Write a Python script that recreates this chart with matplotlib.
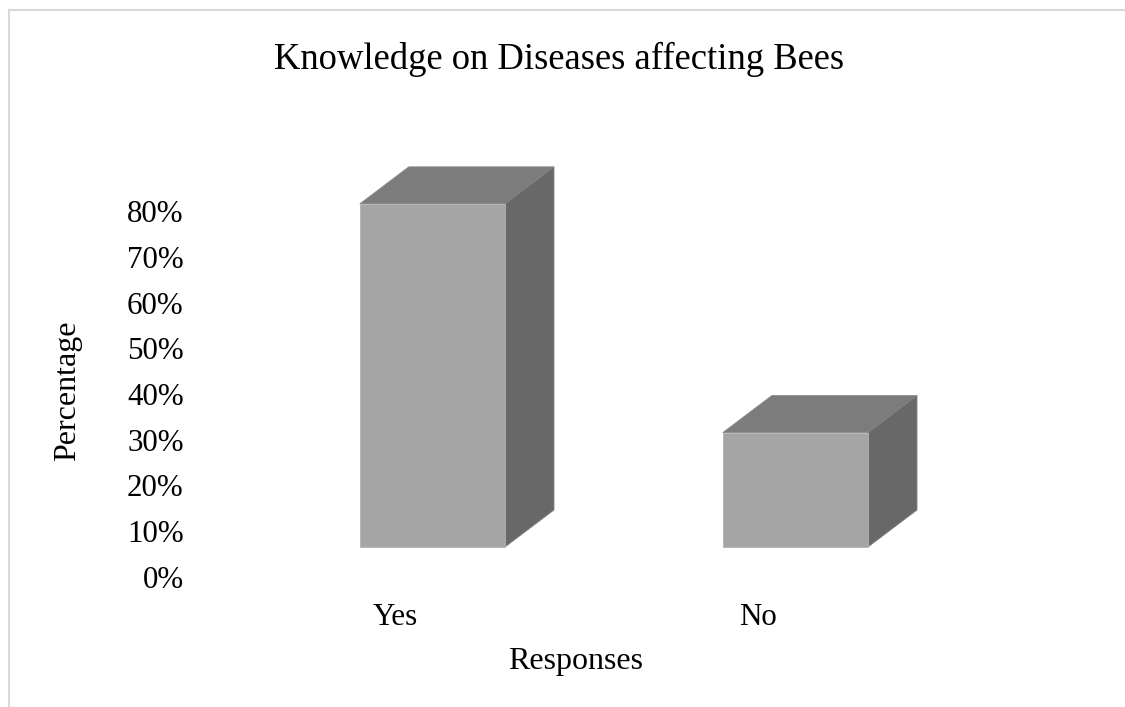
# coding: utf8

import numpy as np
import matplotlib
matplotlib.use("Agg")
import matplotlib.pyplot as plt
from matplotlib.lines import Line2D
from matplotlib.patches import Polygon

reponses = ["Yes", "No"]
pourcentages = [75, 25]
graduations = [0, 10, 20, 30, 40, 50, 60, 70, 80]

W, H = 1125, 707

# Effet 3D : décalage du plan des barres et profondeur, en unités des axes
decal_x, decal_y = 0.103, 6.56
prof_x, prof_y = 0.135, 8.09
largeur = 0.40

plt.rcParams["font.family"] = ["Liberation Serif", "DejaVu Serif"]

fig = plt.figure(figsize=(W / 100, H / 100), dpi=100)
ax = fig.add_axes([213.5 / W, 1 - 577 / H, 726 / W, 366 / H])
ax.set_xlim(-0.5, 1.5)
ax.set_ylim(0, 80)

X = np.arange(len(reponses))
for x, v in zip(X, pourcentages):
    g = x + decal_x - largeur / 2
    d = x + decal_x + largeur / 2
    bas = decal_y
    haut = decal_y + v
    # face avant
    ax.bar(x + decal_x, v, largeur, bottom=bas, color="#a5a5a5", edgecolor="#b4b4b4",
           linewidth=0.6, clip_on=False, zorder=3)
    # dessus
    ax.add_patch(Polygon([(g, haut), (d, haut), (d + prof_x, haut + prof_y), (g + prof_x, haut + prof_y)],
                         closed=True, facecolor="#7c7c7c", edgecolor="#8a8a8a", linewidth=0.6,
                         clip_on=False, zorder=2))
    # côté droit
    ax.add_patch(Polygon([(d, bas), (d + prof_x, bas + prof_y), (d + prof_x, haut + prof_y), (d, haut)],
                         closed=True, facecolor="#686868", edgecolor="#808080", linewidth=0.6,
                         clip_on=False, zorder=2))

for s in ax.spines.values():
    s.set_visible(False)

ax.set_xticks(X)
ax.set_xticklabels(reponses)
ax.set_yticks(graduations)
ax.set_yticklabels(["%d%%" % g for g in graduations])
ax.tick_params(axis="both", length=0, labelsize=22.3, colors="black")
ax.tick_params(axis="y", pad=21.5)
ax.tick_params(axis="x", pad=18.5)

fig.text(559 / W, 1 - 69 / H, "Knowledge on Diseases affecting Bees", fontsize=26.35,
         ha="center", va="baseline")
fig.text(576 / W, 1 - 669 / H, "Responses", fontsize=23, ha="center", va="baseline")
fig.text(68 / W, 1 - 391 / H, "Percentage", fontsize=23, rotation=90, ha="center", va="center")

# Cadre gris clair, seulement en haut et à gauche
cadre = "#d9d9d9"
fig.add_artist(Line2D([8.5 / W, 1], [1 - 9.5 / H, 1 - 9.5 / H], color=cadre, linewidth=1.5))
fig.add_artist(Line2D([9 / W, 9 / W], [0, 1 - 9.5 / H], color=cadre, linewidth=1.5))

fig.savefig("out.png", dpi=100)
